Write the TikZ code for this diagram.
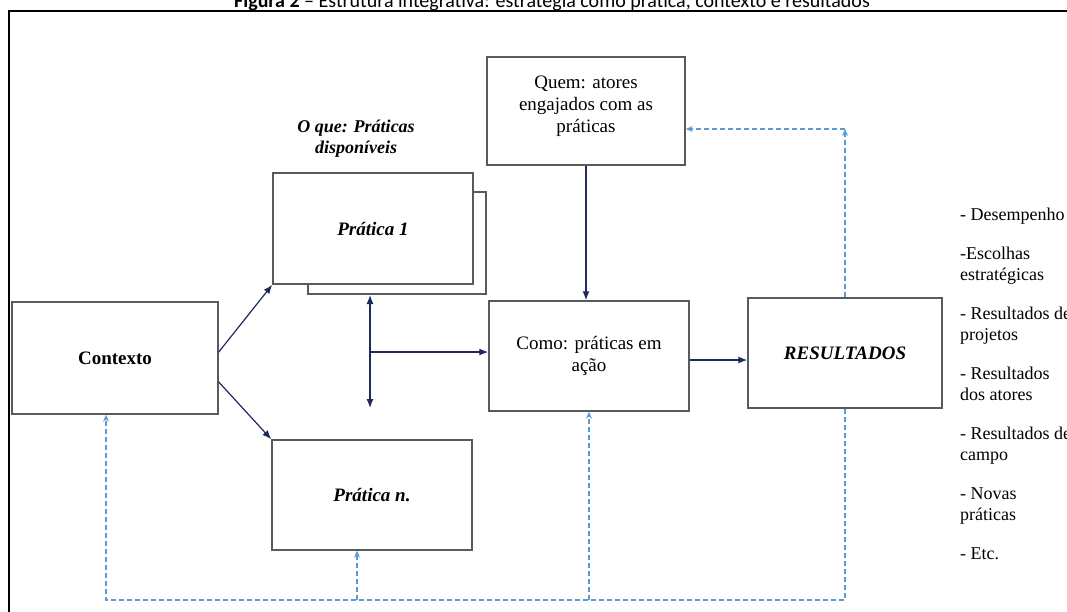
\documentclass[tikz,border=0pt]{standalone}
\usepackage{fontspec}
\setmainfont{Liberation Serif}
\newfontfamily\titlefont{Carlito}
\usetikzlibrary{arrows.meta}

\definecolor{boxgray}{HTML}{5A5A5A}
\definecolor{navyline}{HTML}{1F2A5C}
\definecolor{fbblue}{HTML}{5B9BD5}

\begin{document}
\begin{tikzpicture}[x=1pt, y=-1pt]
    % Define styles
    \tikzset{
        stagebox/.style={draw=boxgray, line width=1.5pt, fill=white, minimum width=200pt, minimum height=110pt, align=center, inner sep=2pt, font=\fontsize{19}{22}\selectfont},
        solidarrow/.style={-{Latex[length=9pt, width=7pt]}, draw=navyline, line width=1.2pt},
        feedback/.style={-{Stealth[length=7pt, width=6pt]}, draw=fbblue, line width=1.6pt, dash pattern=on 5pt off 3pt},
        sidelist/.style={align=left, inner sep=0pt, font=\fontsize{18}{21}\selectfont}
    }

    % Page size
    \useasboundingbox (0,0) rectangle (1067,611);

    % Title and frame
    \node[anchor=base, font=\titlefont\fontsize{20}{24}\selectfont] (title) at (552,7)
        {\textbf{Figura 2} – Estrutura integrativa: estratégia como prática, contexto e resultados};
    \draw[line width=2.5pt] (9,640) -- (9,11) -- (1090,11);

    % Actors box
    \node[stagebox, minimum width=198pt, minimum height=108pt] (quem) at (586,111) {Quem: atores\\engajados com as\\práticas\\[-8pt]\mbox{}};

    % Available practices
    \node[align=center, inner sep=0pt, font=\fontsize{18}{21}\selectfont\bfseries\itshape] (oque) at (356,139) {O que: Práticas\\disponíveis};
    \node[stagebox, minimum width=178pt, minimum height=102pt] (prat1b) at (397,243) {};
    \node[stagebox, minimum height=111pt] (prat1) at (373,228.5) {\textbf{\textit{Prática 1}}};
    \node[stagebox] (pratn) at (372,495) {\textbf{\textit{Prática n.}}};

    % Context, action and results
    \node[stagebox, minimum width=206pt, minimum height=112pt] (contexto) at (115,358) {\textbf{Contexto}};
    \node[stagebox] (como) at (589,356) {Como: práticas em\\ação};
    \node[stagebox, minimum width=194pt] (resultados) at (845,353) {\textbf{\textit{RESULTADOS}}};

    % Outcomes list
    \node[sidelist, anchor=north west] (lista) at (960,208) {- Desempenho\\[18pt]
        -Escolhas\\estratégicas\\[18pt]
        - Resultados de\\projetos\\[18pt]
        - Resultados\\dos atores\\[18pt]
        - Resultados de\\campo\\[18pt]
        - Novas\\práticas\\[18pt]
        - Etc.};

    % Helper points
    \coordinate (vtop) at (370,295);
    \coordinate (vbot) at (370,408);
    \coordinate (vmid) at (370,352);
    \coordinate (qin) at ([yshift=-18pt]quem.east);
    \coordinate (fbtop) at (qin -| resultados.north);
    \coordinate (fbl) at (106,600);
    \coordinate (pnin) at ([xshift=-15pt]pratn.south);

    % Solid arrows
    \draw[solidarrow] ([yshift=6pt]contexto.east) -- (prat1.south west);
    \draw[solidarrow] ([yshift=-24pt]contexto.east) -- (pratn.north west);
    \draw[solidarrow, {Latex[length=9pt, width=7pt]}-{Latex[length=9pt, width=7pt]}] (vtop) -- (vbot);
    \draw[solidarrow] (vmid) -- (vmid -| como.west);
    \draw[solidarrow] (quem.south) -- (quem.south |- como.north);
    \draw[solidarrow] ([yshift=-4pt]como.east) -- ([yshift=-4pt]como.east -| resultados.west);

    % Feedback loops
    \draw[feedback] (resultados.north) -- (fbtop);
    \draw[feedback] (fbtop) -- (qin);
    \draw[feedback] (resultados.south) -- (fbl -| resultados.south) -- (fbl) -- (fbl |- contexto.south);
    \draw[feedback] (pnin |- fbl) -- (pnin);
    \draw[feedback] (fbl -| como.south) -- (como.south);

\end{tikzpicture}
\end{document}
